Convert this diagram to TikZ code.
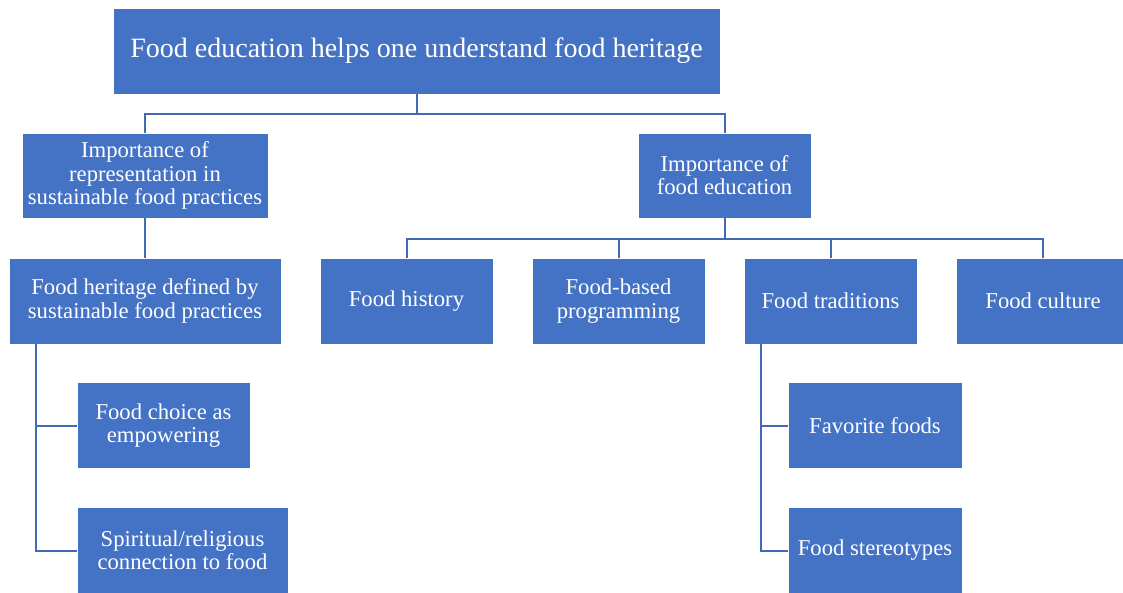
\documentclass[tikz,border=0pt]{standalone}
\usepackage{fontspec}
\setmainfont{Liberation Serif}
\usetikzlibrary{calc}
\definecolor{boxblue}{HTML}{4472C4}
\definecolor{lineblue}{HTML}{4169B4}
\tikzset{
  box/.style={fill=boxblue, draw=white, line width=0.4pt, text=white, align=center,
    inner sep=0pt, font=\fontsize{17}{17.4}\selectfont},
  conn/.style={draw=lineblue, line width=1.5pt}
}
\begin{document}
\begin{tikzpicture}[x=0.75pt,y=-0.75pt]
\useasboundingbox (0,0) rectangle (1123,592);
\clip (0,0) rectangle (1123,592);
% nodes
\node[box, minimum width=607*0.75pt, minimum height=86*0.75pt, font=\fontsize{21}{22}\selectfont] (root) at (416.5,51) {Food education helps one understand food heritage};
\node[box, minimum width=246*0.75pt, minimum height=85*0.75pt] (l1a) at (145,175.5) {Importance of\\representation in\\sustainable food practices};
\node[box, minimum width=173*0.75pt, minimum height=85*0.75pt] (l1b) at (724.5,175.5) {Importance of\\food education};
\node[box, minimum width=272*0.75pt, minimum height=86*0.75pt] (l2a) at (145,301) {Food heritage defined by\\sustainable food practices};
\node[box, minimum width=173*0.75pt, minimum height=86*0.75pt] (c1) at (406.5,301) {Food history};
\node[box, minimum width=173*0.75pt, minimum height=86*0.75pt] (c2) at (618.5,301) {Food-based\\programming};
\node[box, minimum width=173*0.75pt, minimum height=86*0.75pt] (c3) at (830.5,301) {Food traditions};
\node[box, minimum width=174*0.75pt, minimum height=86*0.75pt] (c4) at (1043,301) {Food culture};
\node[box, minimum width=173*0.75pt, minimum height=86*0.75pt] (l3a) at (163.5,425.5) {Food choice as\\empowering};
\node[box, minimum width=211*0.75pt, minimum height=86*0.75pt] (l3b) at (182.5,550.5) {Spiritual/religious\\connection to food};
\node[box, minimum width=174*0.75pt, minimum height=86*0.75pt] (f1) at (875,425.5) {Favorite foods};
\node[box, minimum width=174*0.75pt, minimum height=86*0.75pt] (f2) at (875,550.5) {Food stereotypes};
% connectors
\draw[conn] (root.south) -- ++(0,20) -| (l1a.north);
\draw[conn] (root.south) -- ++(0,20) -| (l1b.north);
\draw[conn] (l1a.south) -- (l2a.north);
\draw[conn] (l1b.south) -- ++(0,20.5) -| (c1.north);
\draw[conn] (l1b.south) -- ++(0,20.5) -| (c2.north);
\draw[conn] (l1b.south) -- ++(0,20.5) -| (c3.north);
\draw[conn] (l1b.south) -- ++(0,20.5) -| (c4.north);
\coordinate (la) at ($(l2a.south west)+(27,0)$);
\draw[conn] (la) |- (l3a.west);
\draw[conn] (la) |- (l3b.west);
\coordinate (ra) at ($(c3.south west)+(17,0)$);
\draw[conn] (ra) |- (f1.west);
\draw[conn] (ra) |- (f2.west);
\end{tikzpicture}
\end{document}
